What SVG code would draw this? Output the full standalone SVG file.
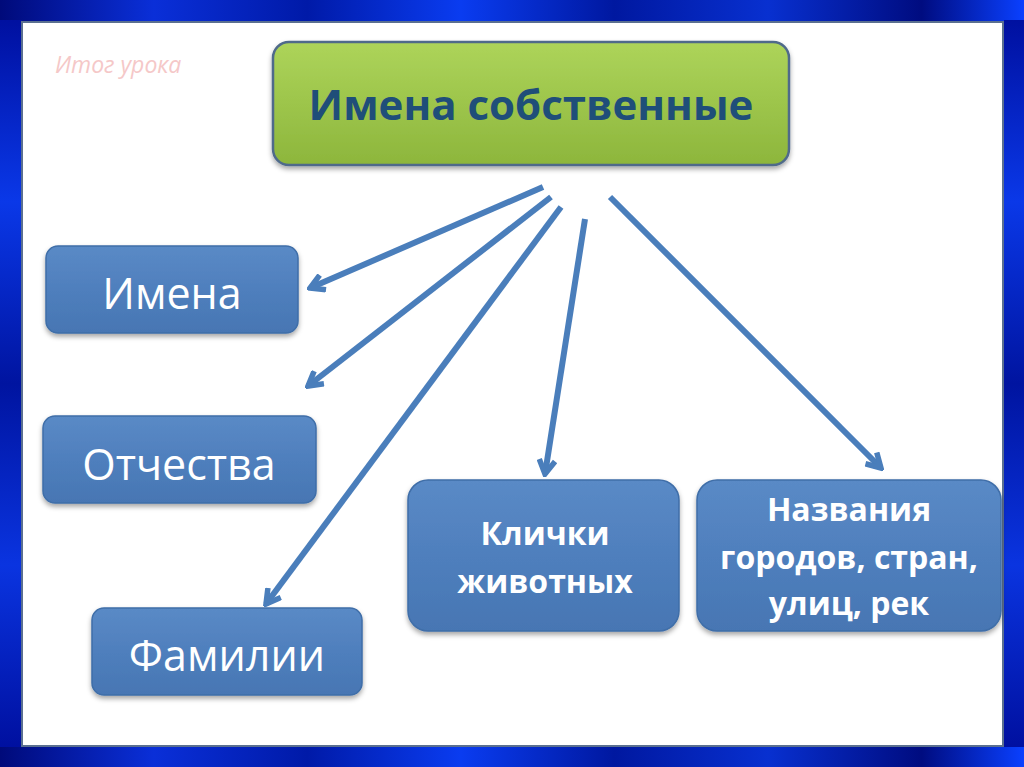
<svg xmlns="http://www.w3.org/2000/svg" width="1024" height="767" viewBox="0 0 1024 767">
<defs>
<linearGradient id="frameH" x1="0" y1="0" x2="1" y2="0">
<stop offset="0" stop-color="#000a7a"/>
<stop offset="0.15" stop-color="#0a2fd8"/>
<stop offset="0.3" stop-color="#001aa8"/>
<stop offset="0.45" stop-color="#0a3cf0"/>
<stop offset="0.6" stop-color="#0018a0"/>
<stop offset="0.75" stop-color="#0830d0"/>
<stop offset="0.9" stop-color="#000c80"/>
<stop offset="1" stop-color="#0a40ff"/>
</linearGradient>
<linearGradient id="frameV" x1="0" y1="0" x2="0" y2="1">
<stop offset="0" stop-color="#0010a0"/>
<stop offset="0.25" stop-color="#0a38e8"/>
<stop offset="0.5" stop-color="#0014a0"/>
<stop offset="0.75" stop-color="#0a34e0"/>
<stop offset="1" stop-color="#0010a0"/>
</linearGradient>
<linearGradient id="green" x1="0" y1="0" x2="0" y2="1">
<stop offset="0" stop-color="#add45a"/>
<stop offset="1" stop-color="#8db63c"/>
</linearGradient>
<linearGradient id="blue" x1="0" y1="0" x2="0" y2="1">
<stop offset="0" stop-color="#5a8ac6"/>
<stop offset="0.5" stop-color="#4f7fbd"/>
<stop offset="1" stop-color="#4776b3"/>
</linearGradient>
<filter id="sh" x="-10%" y="-10%" width="120%" height="130%">
<feDropShadow dx="0" dy="3" stdDeviation="2.5" flood-color="#000" flood-opacity="0.35"/>
</filter>
<marker id="ah" viewBox="0 0 20 20" refX="17" refY="10" markerWidth="20" markerHeight="20" markerUnits="userSpaceOnUse" orient="auto">
<path d="M3,2 L17,10 L3,18" fill="none" stroke="#4a7ebb" stroke-width="5.5" stroke-linecap="butt" stroke-linejoin="miter"/>
</marker>
<style>
.box{fill:url(#blue);stroke:#3f6ea8;stroke-width:1.5;filter:url(#sh)}
.lbl{font-family:"Open Sans","Liberation Sans",sans-serif;fill:#ffffff;text-anchor:middle}
.big{font-size:43px}
.bold{font-size:32px;font-weight:bold}
.conn{stroke:#4a7ebb;stroke-width:6;fill:none;marker-end:url(#ah)}
</style>
</defs>
<rect x="0" y="0" width="1024" height="767" fill="url(#frameH)"/>
<rect x="0" y="20" width="22" height="727" fill="url(#frameV)"/>
<rect x="1004" y="20" width="20" height="727" fill="url(#frameV)"/>
<rect x="22" y="22" width="981" height="724" fill="#ffffff" stroke="#5b7090" stroke-width="2"/>
<text x="55" y="73" font-family="Open Sans, Liberation Sans, sans-serif" font-style="italic" font-size="23" fill="#f5c8c8">Итог урока</text>
<g id="root">
<rect x="273" y="42" width="516" height="123" rx="16" fill="url(#green)" stroke="#4f6a8a" stroke-width="2.5" filter="url(#sh)"/>
<text x="531" y="120" font-family="Open Sans, Liberation Sans, sans-serif" font-weight="bold" font-size="42" fill="#1f4e79" text-anchor="middle">Имена собственные</text>
</g>
<g id="n-imena">
<rect class="box" x="46" y="246" width="252" height="87" rx="12"/>
<text class="lbl big" x="172" y="309">Имена</text>
</g>
<g id="n-otchestva">
<rect class="box" x="43" y="416" width="273" height="87" rx="12"/>
<text class="lbl big" x="179" y="480">Отчества</text>
</g>
<g id="n-familii">
<rect class="box" x="92" y="608" width="270" height="87" rx="12"/>
<text class="lbl big" x="227" y="671">Фамилии</text>
</g>
<g id="n-klichki">
<rect class="box" x="408" y="480" width="271" height="151" rx="20"/>
<text class="lbl bold" x="545" y="545">Клички</text>
<text class="lbl bold" x="545" y="593">животных</text>
</g>
<g id="n-nazvaniya">
<rect class="box" x="697" y="480" width="304" height="151" rx="20"/>
<text class="lbl bold" x="849" y="521">Названия</text>
<text class="lbl bold" x="849" y="569">городов, стран,</text>
<text class="lbl bold" x="849" y="615">улиц, рек</text>
</g>
<g id="connectors">
<line class="conn" x1="543" y1="187" x2="310" y2="288"/>
<line class="conn" x1="551" y1="197" x2="308" y2="386"/>
<line class="conn" x1="561" y1="207" x2="266" y2="604"/>
<line class="conn" x1="585" y1="219" x2="545" y2="474"/>
<line class="conn" x1="610" y1="197" x2="881" y2="468"/>
</g>
</svg>
